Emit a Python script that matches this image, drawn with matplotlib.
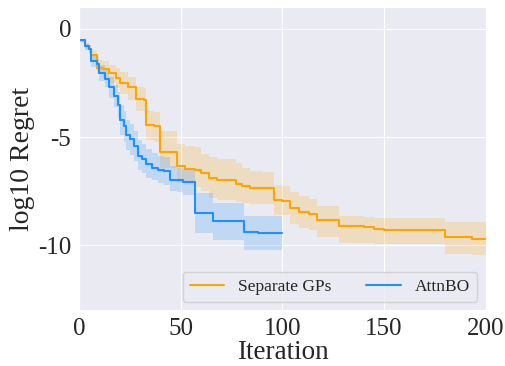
import numpy as np
import matplotlib.pyplot as plt
import seaborn as sns

# Separate GPs: step change points (iteration, mean, lower, upper)
sep_iter = [0, 3, 5, 6, 9, 12, 15, 18, 20, 24, 28, 32, 33, 37, 40, 48, 52, 57, 60, 64, 68, 77,
            80, 84, 90, 96, 100, 104, 108, 113, 117, 128, 140, 145, 150, 180, 193, 200]
sep_mean = [-0.52, -0.8, -0.92, -1.18, -1.79, -1.87, -2.05, -2.25, -2.48, -2.7, -3.24, -3.3,
            -4.43, -4.5, -5.7, -6.35, -6.45, -6.53, -6.64, -6.9, -7.0, -7.14,
            -7.25, -7.34, -7.37, -7.9, -7.95, -8.26, -8.44, -8.56, -8.82, -9.1, -9.17, -9.24,
            -9.28, -9.62, -9.7, -9.7]
sep_lo = [-0.6, -0.95, -1.1, -1.45, -2.1, -2.25, -2.5, -2.75, -3.0, -3.3, -3.8, -3.9,
          -5.15, -5.2, -6.4, -7.1, -7.2, -7.3, -7.5, -7.8, -7.9, -8.0,
          -8.05, -8.1, -8.1, -8.6, -8.6, -9.0, -9.2, -9.3, -9.6, -9.9, -9.9, -9.95,
          -9.95, -10.4, -10.45, -10.45]
sep_hi = [-0.45, -0.65, -0.75, -0.95, -1.45, -1.5, -1.65, -1.8, -2.0, -2.2, -2.7, -2.75,
          -3.8, -3.85, -4.7, -5.3, -5.4, -5.45, -5.77, -5.9, -6.0, -6.2,
          -6.4, -6.55, -6.6, -7.2, -7.25, -7.55, -7.7, -7.85, -8.2, -8.65, -8.7, -8.75,
          -8.75, -8.93, -8.93, -8.93]

# AttnBO
att_iter = [0, 3, 5, 6, 9, 10, 13, 15, 17, 19, 20, 22, 23, 25, 27, 29, 31, 33, 36, 39, 42,
            45, 48, 51, 57, 66, 81, 88, 100]
att_mean = [-0.52, -0.8, -0.92, -1.48, -1.6, -2.05, -2.3, -2.7, -3.1, -3.5, -4.2, -4.5, -4.9,
            -5.1, -5.4, -5.85, -6.0, -6.25, -6.4, -6.5, -6.57, -6.96, -7.0, -7.08, -8.52,
            -8.87, -9.39, -9.43, -9.43]
att_lo = [-0.6, -0.95, -1.1, -1.75, -1.9, -2.4, -2.7, -3.2, -3.6, -4.1, -4.9, -5.2, -5.6,
          -5.8, -6.1, -6.5, -6.65, -6.9, -7.0, -7.1, -7.2, -7.5, -7.55, -7.65, -9.43,
          -9.74, -10.23, -10.23, -10.23]
att_hi = [-0.45, -0.65, -0.75, -1.2, -1.3, -1.65, -1.9, -2.2, -2.6, -2.9, -3.5, -3.8, -4.2,
          -4.4, -4.7, -5.15, -5.3, -5.55, -5.75, -5.85, -5.9, -6.35, -6.4, -6.45, -7.57,
          -8.06, -8.62, -8.62, -8.62]

sns.set_style("darkgrid")
plt.rcParams["font.family"] = ["Liberation Serif", "DejaVu Serif"]
plt.rcParams["axes.unicode_minus"] = False

fig, ax = plt.subplots(figsize=(5.06, 3.66), dpi=100)

ax.plot(sep_iter, sep_mean, drawstyle="steps-post", color="#FFA500", lw=1.5, label="Separate GPs")
ax.fill_between(sep_iter, sep_lo, sep_hi, step="post", color="#FFA500", alpha=0.2, lw=0)
ax.plot(att_iter, att_mean, drawstyle="steps-post", color="#1E90FF", lw=1.5, label="AttnBO")
ax.fill_between(att_iter, att_lo, att_hi, step="post", color="#1E90FF", alpha=0.2, lw=0)

ax.set_xlim(0, 200)
ax.set_ylim(-13, 1)
ax.set_xticks([0, 50, 100, 150, 200])
ax.set_yticks([0, -5, -10])
ax.tick_params(labelsize=18, pad=2)
ax.set_xlabel("Iteration", fontsize=19.5, labelpad=0)
ax.set_ylabel("log10 Regret", fontsize=20, labelpad=2)
ax.legend(loc="lower right", ncol=2, fontsize=12.5)

plt.subplots_adjust(left=0.156, right=0.96, top=0.98, bottom=0.152)
plt.savefig("out.png", dpi=100)
